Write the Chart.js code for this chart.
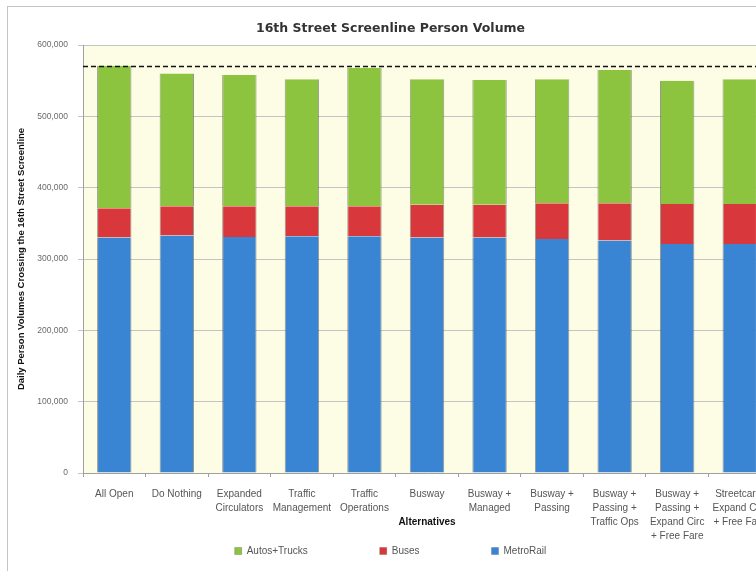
<!DOCTYPE html>
<html>
<head>
<meta charset="utf-8">
<script src="https://cdn.jsdelivr.net/npm/chart.js@4.4.1/dist/chart.umd.min.js"></script>
<style>
  html, body { margin: 0; padding: 0; background: #fff; overflow: hidden; }
  #wrap { position: relative; width: 790px; height: 571px; }
</style>
</head>
<body>
<div id="wrap"><canvas id="chart" width="790" height="571"></canvas></div>
<script>
// Data (daily persons crossing the screenline)
const alternatives = [
    'All Open',
    'Do Nothing',
    ['Expanded', 'Circulators'],
    ['Traffic', 'Management'],
    ['Traffic', 'Operations'],
    'Busway',
    ['Busway +', 'Managed'],
    ['Busway +', 'Passing'],
    ['Busway +', 'Passing +', 'Traffic Ops'],
    ['Busway +', 'Passing +', 'Expand Circ', '+ Free Fare'],
    ['Streetcar +', 'Expand Circ', '+ Free Fare']
];
const metroRail   = [330000, 333000, 331000, 332000, 332000, 330000, 330000, 328000, 326000, 321000, 321000];
const buses       = [41000, 41000, 43000, 42000, 42000, 46000, 46000, 50000, 52000, 56000, 56000];
const autosTrucks = [200000, 186000, 184000, 178000, 194000, 176000, 175000, 174000, 187000, 173000, 175000];
const allOpenTotal = 571000;
const yTicks = [0, 100000, 200000, 300000, 400000, 500000, 600000];

const FONT = "'Liberation Sans', Arial, sans-serif";

// White page, outer frame and pale plot background
const backdrop = {
    id: 'backdrop',
    beforeDraw(chart) {
        const { ctx, chartArea: a } = chart;
        ctx.save();
        ctx.fillStyle = '#ffffff';
        ctx.fillRect(0, 0, chart.width, chart.height);
        ctx.strokeStyle = '#c4c4c4';
        ctx.lineWidth = 1;
        ctx.strokeRect(7.5, 6.5, 820, 620);
        ctx.fillStyle = '#fdfde6';
        ctx.fillRect(a.left, a.top, a.right - a.left, a.bottom - a.top);
        ctx.strokeStyle = '#b0b0b0';
        ctx.beginPath();
        ctx.moveTo(a.left, a.top + 0.5);
        ctx.lineTo(a.right, a.top + 0.5);
        ctx.stroke();
        ctx.restore();
    }
};

// Dashed reference line at the All Open total
const totalLine = {
    id: 'totalLine',
    afterDatasetsDraw(chart) {
        const { ctx, chartArea: a, scales: { y } } = chart;
        const py = Math.round(y.getPixelForValue(allOpenTotal)) + 0.5;
        ctx.save();
        ctx.strokeStyle = '#111';
        ctx.lineWidth = 1.6;
        ctx.setLineDash([5, 3]);
        ctx.beginPath();
        ctx.moveTo(a.left, py);
        ctx.lineTo(a.right, py);
        ctx.stroke();
        ctx.restore();
    }
};

const edge = 'rgba(70, 70, 70, 0.55)';
const barStyle = {
    borderColor: edge,
    borderWidth: { left: 1, right: 1, top: 0, bottom: 0 },
    borderSkipped: false,
    categoryPercentage: 1,
    barPercentage: 0.55
};

new Chart(document.getElementById('chart'), {
    type: 'bar',
    data: {
        labels: alternatives,
        datasets: [
            { label: 'MetroRail', data: metroRail, backgroundColor: '#3a84d4', ...barStyle },
            { label: 'Buses', data: buses, backgroundColor: '#d8383b', ...barStyle },
            { label: 'Autos+Trucks', data: autosTrucks, backgroundColor: '#8cc43f', ...barStyle }
        ]
    },
    options: {
        responsive: false,
        animation: false,
        layout: { padding: { left: 10, right: 19, top: 0, bottom: 5 } },
        scales: {
            x: {
                stacked: true,
                grid: { drawOnChartArea: false, drawTicks: true, tickLength: 4, color: '#a0a0a0' },
                border: { color: '#a0a0a0' },
                ticks: {
                    autoSkip: false,
                    maxRotation: 0,
                    padding: 10,
                    color: '#555',
                    font: { family: FONT, size: 10, lineHeight: 1.4 }
                },
                title: {
                    display: true,
                    text: 'Alternatives',
                    color: '#111',
                    font: { family: FONT, size: 10, weight: 'bold' },
                    padding: { top: 0, bottom: 18 }
                },
                // keep the axis title level with the wrapped labels, as in the source
                afterFit(scale) { scale.height = 73; }
            },
            y: {
                stacked: true,
                min: 0,
                max: 600000,
                afterBuildTicks(scale) { scale.ticks = yTicks.map(v => ({ value: v })); },
                grid: { color: '#c4c4c4', tickLength: 5 },
                border: { color: '#a0a0a0' },
                ticks: {
                    padding: 10,
                    color: '#6a6a6a',
                    font: { family: FONT, size: 8.5 },
                    callback: v => v.toLocaleString('en-US')
                },
                title: {
                    display: true,
                    text: 'Daily Person Volumes Crossing the 16th Street Screenline',
                    color: '#111',
                    font: { family: FONT, size: 9.5, weight: 'bold' },
                    padding: { top: 6, bottom: 0 }
                },
                afterFit(scale) { scale.width = 73; }
            }
        },
        plugins: {
            title: {
                display: true,
                text: '16th Street Screenline Person Volume',
                color: '#333',
                font: { family: "'DejaVu Sans', sans-serif", size: 12.5, weight: 'bold' },
                padding: { top: 21, bottom: 9 }
            },
            legend: {
                position: 'bottom',
                reverse: true,
                // empty title with negative padding cancels the vertical share of labels.padding,
                // so the wide horizontal spacing does not push the legend down
                title: { display: true, text: '', font: { size: 1, lineHeight: 1 }, padding: { top: -73, bottom: 0 } },
                labels: {
                    boxWidth: 7,
                    boxHeight: 7,
                    padding: 72,
                    color: '#555',
                    font: { family: FONT, size: 10 }
                }
            },
            tooltip: { enabled: false }
        }
    },
    plugins: [backdrop, totalLine]
});
</script>
</body>
</html>
